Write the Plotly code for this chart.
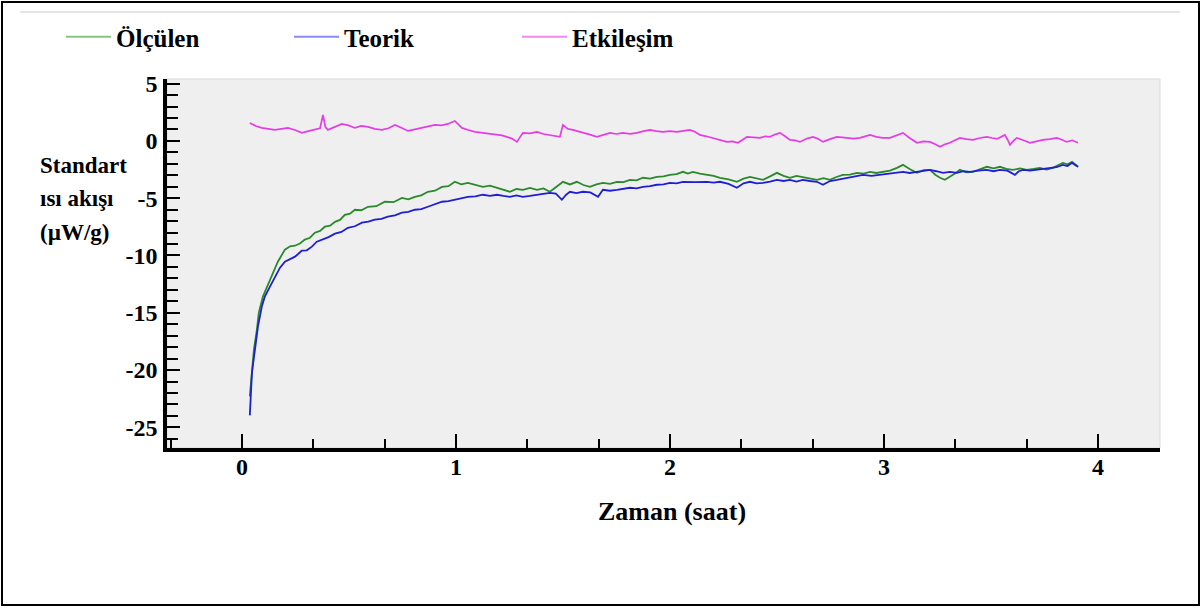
import plotly.graph_objects as go

# Time (saat) and standard heat flow (µW/g) for each series
olculen_t = [0.037, 0.047, 0.056, 0.070, 0.079, 0.098, 0.117, 0.131, 0.154, 0.168,
             0.201, 0.225, 0.248, 0.271, 0.294, 0.318, 0.341, 0.365, 0.388, 0.412,
             0.435, 0.458, 0.481, 0.505, 0.528, 0.558, 0.589, 0.628, 0.668, 0.708,
             0.748, 0.778, 0.808, 0.838, 0.869, 0.902, 0.935, 0.965, 0.995, 1.025,
             1.056, 1.091, 1.126, 1.159, 1.192, 1.222, 1.252, 1.283, 1.313, 1.346,
             1.379, 1.409, 1.439, 1.470, 1.500, 1.533, 1.565, 1.596, 1.626, 1.657,
             1.687, 1.720, 1.752, 1.783, 1.813, 1.844, 1.874, 1.907, 1.939, 1.970,
             2.000, 2.031, 2.061, 2.084, 2.107, 2.140, 2.173, 2.204, 2.234, 2.274,
             2.313, 2.344, 2.374, 2.405, 2.435, 2.468, 2.500, 2.531, 2.561, 2.591,
             2.621, 2.654, 2.687, 2.718, 2.748, 2.778, 2.808, 2.841, 2.874, 2.905,
             2.935, 2.965, 2.995, 3.028, 3.061, 3.089, 3.120, 3.154, 3.185, 3.215,
             3.240, 3.262, 3.285, 3.308, 3.332, 3.355, 3.385, 3.416, 3.448, 3.481,
             3.512, 3.542, 3.572, 3.603, 3.636, 3.668, 3.700, 3.729, 3.760, 3.790,
             3.815, 3.836, 3.858, 3.879, 3.907]
olculen_q = [-22.30, -20.21, -18.21, -16.46, -14.98, -13.59, -12.72, -12.11, -11.15, -10.54,
             -9.49, -9.20, -9.15, -8.95, -8.62, -8.45, -8.01, -7.85, -7.49, -7.40,
             -7.06, -6.90, -6.45, -6.35, -6.01, -6.05, -5.75, -5.70, -5.31, -5.35,
             -4.97, -5.10, -4.88, -4.75, -4.44, -4.35, -4.01, -3.95, -3.57, -3.80,
             -3.66, -3.85, -4.01, -3.90, -4.09, -4.20, -4.44, -4.20, -4.27, -4.10,
             -4.27, -4.15, -4.44, -4.00, -3.57, -3.80, -3.57, -3.85, -4.01, -3.80,
             -3.66, -3.75, -3.57, -3.60, -3.40, -3.45, -3.22, -3.30, -3.14, -3.10,
             -2.96, -2.90, -2.70, -2.85, -2.70, -2.85, -2.96, -3.05, -3.22, -3.35,
             -3.57, -3.30, -3.14, -3.30, -3.40, -3.10, -2.79, -3.05, -3.22, -3.05,
             -3.14, -3.25, -3.40, -3.25, -3.40, -3.15, -2.96, -2.95, -2.79, -2.85,
             -2.70, -2.80, -2.70, -2.60, -2.35, -2.09, -2.45, -2.79, -2.55, -2.53,
             -2.95, -3.22, -3.40, -3.14, -2.85, -2.53, -2.75, -2.70, -2.45, -2.26,
             -2.40, -2.26, -2.45, -2.53, -2.40, -2.53, -2.45, -2.35, -2.50, -2.35,
             -2.10, -1.92, -2.05, -1.83, -2.26]

teorik_t = [0.037, 0.042, 0.047, 0.061, 0.075, 0.093, 0.107, 0.131, 0.154, 0.178,
            0.201, 0.225, 0.248, 0.264, 0.280, 0.303, 0.327, 0.350, 0.374, 0.405,
            0.435, 0.465, 0.495, 0.528, 0.561, 0.591, 0.621, 0.652, 0.682, 0.715,
            0.748, 0.778, 0.808, 0.838, 0.869, 0.902, 0.935, 0.965, 0.995, 1.025,
            1.056, 1.091, 1.126, 1.159, 1.192, 1.222, 1.252, 1.283, 1.313, 1.346,
            1.379, 1.409, 1.439, 1.467, 1.495, 1.515, 1.533, 1.563, 1.593, 1.628,
            1.664, 1.687, 1.720, 1.752, 1.783, 1.813, 1.844, 1.874, 1.907, 1.939,
            1.970, 2.000, 2.031, 2.061, 2.117, 2.173, 2.204, 2.234, 2.274, 2.313,
            2.344, 2.374, 2.405, 2.435, 2.468, 2.500, 2.531, 2.561, 2.591, 2.621,
            2.654, 2.687, 2.715, 2.748, 2.780, 2.810, 2.841, 2.872, 2.902, 2.942,
            2.981, 3.021, 3.061, 3.089, 3.120, 3.154, 3.185, 3.215, 3.245, 3.276,
            3.308, 3.341, 3.372, 3.402, 3.442, 3.481, 3.512, 3.542, 3.577, 3.612,
            3.630, 3.650, 3.683, 3.715, 3.745, 3.776, 3.806, 3.836, 3.858, 3.879,
            3.907]
teorik_q = [-23.95, -22.56, -20.21, -18.21, -16.20, -14.46, -13.59, -12.72, -11.85, -11.06,
            -10.54, -10.30, -10.10, -9.85, -9.58, -9.55, -9.23, -8.80, -8.62, -8.40,
            -8.10, -7.95, -7.58, -7.45, -7.14, -7.05, -6.88, -6.80, -6.62, -6.50,
            -6.27, -6.20, -6.01, -5.95, -5.75, -5.50, -5.31, -5.25, -5.14, -5.05,
            -4.88, -4.85, -4.70, -4.80, -4.70, -4.80, -4.88, -4.75, -4.88, -4.80,
            -4.70, -4.65, -4.53, -4.60, -5.14, -4.70, -4.44, -4.55, -4.44, -4.50,
            -4.88, -4.27, -4.35, -4.27, -4.20, -4.09, -4.15, -4.01, -3.95, -3.83,
            -3.80, -3.66, -3.70, -3.57, -3.60, -3.57, -3.65, -3.57, -3.75, -4.09,
            -3.70, -3.57, -3.70, -3.66, -3.55, -3.40, -3.50, -3.40, -3.55, -3.40,
            -3.50, -3.57, -3.83, -3.50, -3.40, -3.30, -3.14, -3.05, -2.96, -3.05,
            -2.96, -2.90, -2.79, -2.70, -2.80, -2.70, -2.65, -2.53, -2.65, -2.79,
            -2.70, -2.79, -2.65, -2.70, -2.60, -2.53, -2.65, -2.53, -2.60, -2.96,
            -2.65, -2.53, -2.60, -2.53, -2.45, -2.35, -2.30, -2.09, -2.20, -1.92,
            -2.26]

etkilesim_t = [0.037, 0.065, 0.093, 0.123, 0.154, 0.185, 0.215, 0.248, 0.280, 0.310,
               0.341, 0.365, 0.379, 0.390, 0.402, 0.435, 0.467, 0.498, 0.528, 0.558,
               0.589, 0.621, 0.654, 0.685, 0.715, 0.745, 0.776, 0.808, 0.841, 0.872,
               0.902, 0.932, 0.963, 0.995, 1.028, 1.058, 1.089, 1.126, 1.160, 1.192,
               1.215, 1.238, 1.262, 1.285, 1.313, 1.346, 1.379, 1.409, 1.439, 1.465,
               1.486, 1.500, 1.523, 1.547, 1.570, 1.593, 1.626, 1.659, 1.690, 1.720,
               1.750, 1.780, 1.813, 1.846, 1.877, 1.907, 1.937, 1.967, 2.000, 2.033,
               2.063, 2.093, 2.117, 2.140, 2.170, 2.201, 2.234, 2.266, 2.292, 2.318,
               2.340, 2.360, 2.390, 2.421, 2.445, 2.467, 2.490, 2.514, 2.538, 2.561,
               2.585, 2.607, 2.640, 2.668, 2.690, 2.715, 2.748, 2.780, 2.805, 2.827,
               2.858, 2.888, 2.912, 2.935, 2.965, 2.995, 3.028, 3.060, 3.089, 3.120,
               3.154, 3.185, 3.215, 3.240, 3.262, 3.285, 3.308, 3.332, 3.355, 3.385,
               3.416, 3.448, 3.481, 3.505, 3.528, 3.548, 3.565, 3.578, 3.589, 3.605,
               3.621, 3.652, 3.682, 3.712, 3.743, 3.775, 3.808, 3.832, 3.855, 3.880,
               3.907]
etkilesim_q = [1.57, 1.30, 1.13, 1.05, 0.96, 1.05, 1.13, 0.95, 0.70, 0.85,
               0.96, 1.10, 2.26, 1.20, 0.96, 1.20, 1.48, 1.35, 1.13, 1.30,
               1.22, 1.05, 0.96, 1.10, 1.39, 1.15, 0.87, 1.00, 1.13, 1.25,
               1.39, 1.35, 1.48, 1.74, 1.13, 0.95, 0.78, 0.70, 0.62, 0.52,
               0.48, 0.35, 0.20, -0.09, 0.70, 0.65, 0.78, 0.60, 0.52, 0.45,
               0.35, 1.39, 1.05, 0.96, 0.85, 0.70, 0.55, 0.35, 0.55, 0.70,
               0.60, 0.70, 0.62, 0.70, 0.85, 0.96, 0.85, 0.78, 0.85, 0.78,
               0.88, 0.96, 0.80, 0.52, 0.40, 0.26, 0.10, -0.09, -0.05, -0.17,
               0.10, 0.35, 0.30, 0.26, 0.40, 0.35, 0.55, 0.70, 0.40, 0.09,
               0.05, -0.09, 0.20, 0.35, 0.20, -0.09, 0.15, 0.35, 0.30, 0.26,
               0.20, 0.26, 0.40, 0.52, 0.35, 0.26, 0.26, 0.50, 0.70, 0.25,
               -0.17, -0.05, -0.09, -0.30, -0.52, -0.30, -0.17, 0.05, 0.26, 0.15,
               0.09, 0.25, 0.35, 0.25, 0.17, 0.35, 0.52, 0.10, -0.35, 0.00,
               0.26, 0.05, -0.17, -0.05, 0.09, 0.15, 0.26, 0.10, -0.09, 0.05,
               -0.17]

series_names = ["Ölçülen", "Teorik", "Etkileşim"]
x_tick_vals = [0, 1, 2, 3, 4]
x_tick_text = ["0", "1", "2", "3", "4"]
y_tick_vals = [5, 0, -5, -10, -15, -20, -25]
y_tick_text = ["5", "0", "-5", "-10", "-15", "-20", "-25"]
y_title_lines = ["Standart", "ısı akışı", "(µW/g)"]
x_title = "Zaman (saat)"

# Page geometry
W, H = 1202, 609
L, R, T, B = 167, 42, 79, 161
PW, PH = W - L - R, H - T - B


def px_x(px):
    return (px - L) / PW


def px_y(py):
    return (H - B - py) / PH


SERIF = "Liberation Serif"
line_colors = ["#2a8a2a", "#1e1ed2", "#e63ce6"]
line_widths = [1.8, 1.8, 1.7]
legend_colors = ["#86c486", "#8a8af2", "#f08af0"]

fig = go.Figure()
for name, t, q, col, lw in zip(series_names,
                               [olculen_t, teorik_t, etkilesim_t],
                               [olculen_q, teorik_q, etkilesim_q],
                               line_colors, line_widths):
    fig.add_trace(go.Scatter(x=t, y=q, mode="lines", name=name, showlegend=False,
                             line=dict(color=col, width=lw)))

# Legend entries with lighter swatches
for name, col in zip(series_names, legend_colors):
    fig.add_trace(go.Scatter(x=[None], y=[None], mode="lines", name=name,
                             line=dict(color=col, width=2)))

fig.update_layout(
    width=W, height=H,
    margin=dict(l=L, r=R, t=T, b=B, pad=0),
    paper_bgcolor="white",
    plot_bgcolor="#efefef",
    font=dict(family=SERIF, color="black"),
    legend=dict(orientation="h", x=px_x(61), y=px_y(37), xanchor="left", yanchor="middle",
                font=dict(family=SERIF, size=25, weight="bold", color="black"),
                entrywidth=168, entrywidthmode="pixels", itemwidth=45,
                bgcolor="rgba(0,0,0,0)", traceorder="normal"),
    xaxis=dict(range=[-0.35, 4.29], showgrid=False, zeroline=False,
               showline=True, linecolor="black", linewidth=3.5,
               tickmode="array", tickvals=x_tick_vals, ticktext=x_tick_text,
               ticks="inside", ticklen=14, tickwidth=1.5, tickcolor="black",
               minor=dict(dtick=1 / 3, tick0=0, ticks="inside", ticklen=9,
                          tickwidth=1.5, tickcolor="black", showgrid=False),
               tickfont=dict(family=SERIF, size=24, weight="bold"),
               ticklabelstandoff=-6),
    yaxis=dict(range=[-26.8, 5.4], showgrid=False, zeroline=False,
               showline=True, linecolor="black", linewidth=3.5,
               tickmode="array", tickvals=y_tick_vals, ticktext=y_tick_text,
               ticks="inside", ticklen=13, tickwidth=1.5, tickcolor="black",
               minor=dict(dtick=1, tick0=0, ticks="inside", ticklen=11,
                          tickwidth=1.5, tickcolor="black", showgrid=False),
               tickfont=dict(family=SERIF, size=24, weight="bold"),
               ticklabelstandoff=1),
)

# Vertical-axis caption, written horizontally in three lines
for text, py in zip(y_title_lines, [165, 198, 232]):
    fig.add_annotation(text=text, xref="paper", yref="paper", x=px_x(38), y=px_y(py),
                       xanchor="left", yanchor="middle", showarrow=False,
                       font=dict(family=SERIF, size=23, weight="bold", color="black"))

fig.add_annotation(text=x_title, xref="paper", yref="paper", x=px_x(672), y=px_y(511),
                   xanchor="center", yanchor="middle", showarrow=False,
                   font=dict(family=SERIF, size=26, weight="bold", color="black"))

# Frame of the figure, faint top rule and light edge of the plot area
fig.add_shape(type="rect", xref="paper", yref="paper",
              x0=px_x(2), x1=px_x(1199), y0=px_y(605), y1=px_y(2),
              line=dict(color="black", width=2), layer="above")
fig.add_shape(type="line", xref="paper", yref="paper",
              x0=px_x(20), x1=px_x(1180), y0=px_y(12), y1=px_y(12),
              line=dict(color="#e4e4e4", width=2))
fig.add_shape(type="rect", xref="paper", yref="paper", x0=0, x1=1, y0=0, y1=1,
              line=dict(color="#d9d9d9", width=1), layer="below")

fig.write_html("out.html")
